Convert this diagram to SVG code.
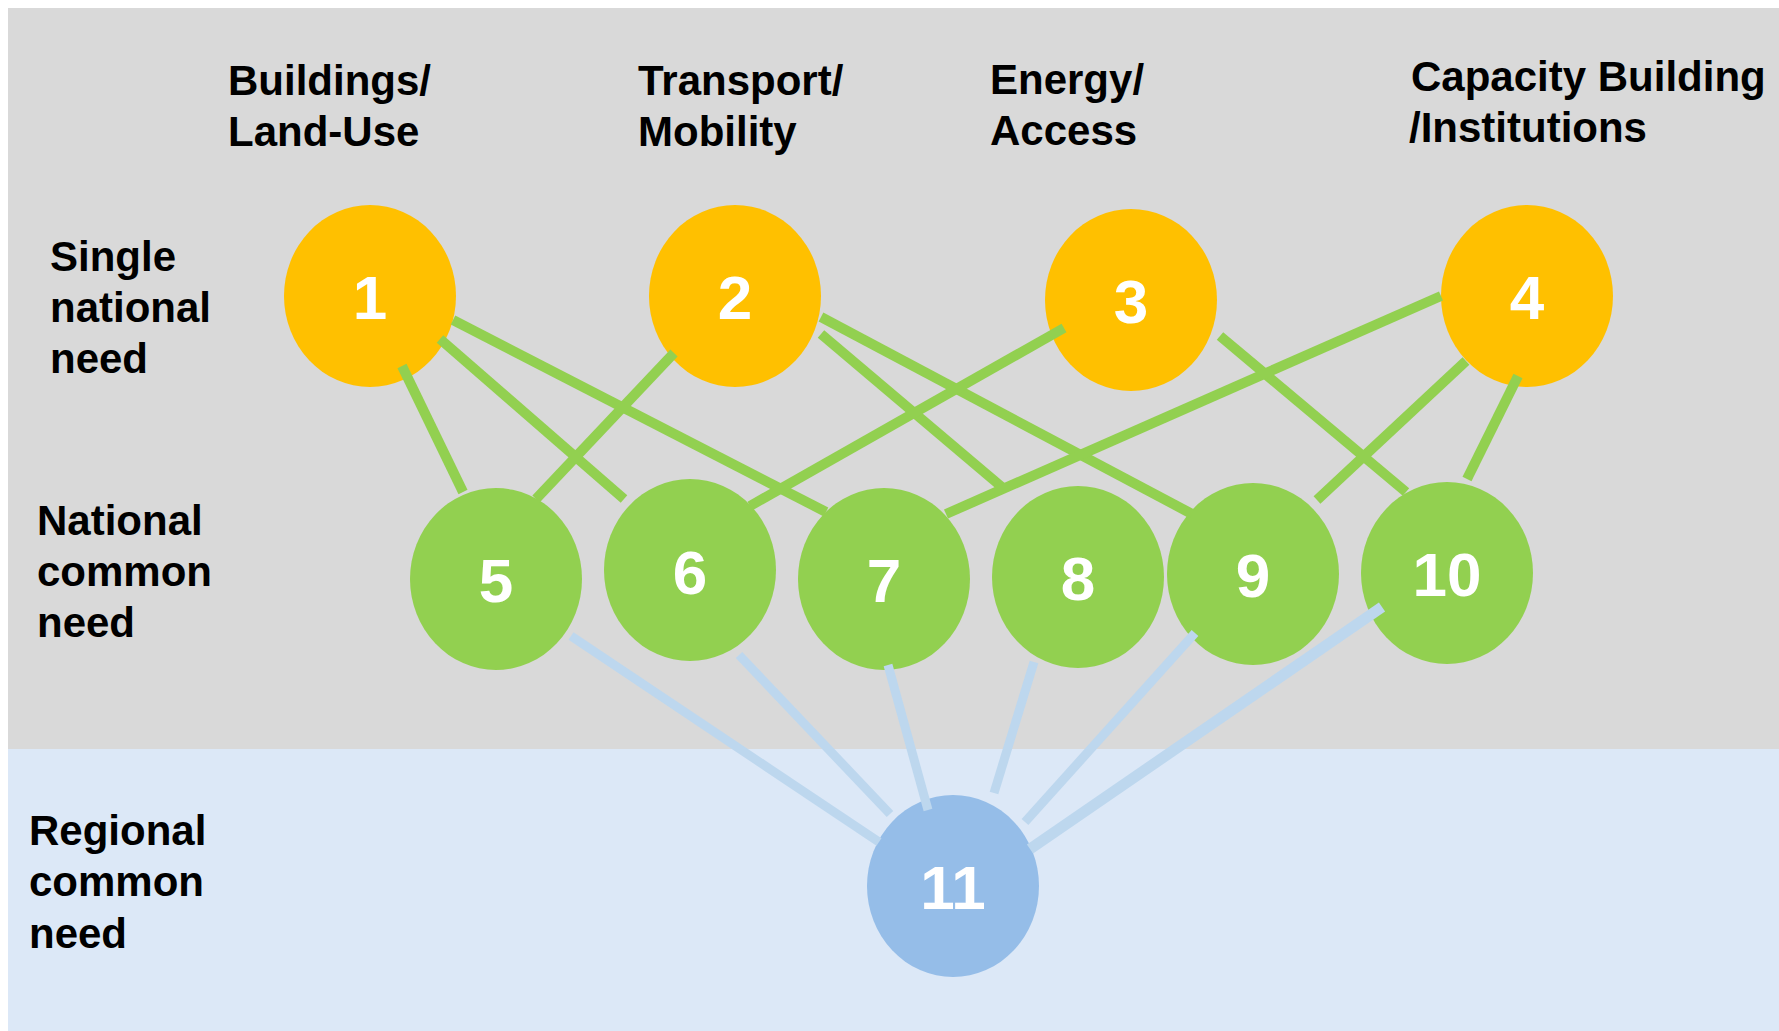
<svg xmlns="http://www.w3.org/2000/svg" width="1779" height="1031" viewBox="0 0 1779 1031">
<style>
.lbl{font-family:"Liberation Sans",Arial,sans-serif;font-weight:bold;font-size:42px;fill:#000}
.num{font-family:"Liberation Sans",Arial,sans-serif;font-weight:bold;font-size:62px;fill:#fff;text-anchor:middle}
.g{stroke:#92D050;stroke-width:10;stroke-linecap:butt;fill:none}
.b{stroke:#BDD7EE;stroke-width:9;stroke-linecap:butt;fill:none}
.y{fill:#FFC000}.gr{fill:#92D050}.bl{fill:#95BDE8}
</style>
<rect x="0" y="0" width="1779" height="1031" fill="#fff"/>
<rect x="8" y="8" width="1771" height="741" fill="#D9D9D9"/>
<rect x="8" y="749" width="1771" height="282" fill="#DCE8F7"/>
<g id="labels">
<text class="lbl" x="228" y="95">Buildings/</text>
<text class="lbl" x="228" y="146">Land-Use</text>
<text class="lbl" x="638" y="95">Transport/</text>
<text class="lbl" x="638" y="146">Mobility</text>
<text class="lbl" x="990" y="94">Energy/</text>
<text class="lbl" x="990" y="145">Access</text>
<text class="lbl" x="1411" y="91">Capacity Building</text>
<text class="lbl" x="1409" y="142">/Institutions</text>
<text class="lbl" x="50" y="271">Single</text>
<text class="lbl" x="50" y="322">national</text>
<text class="lbl" x="50" y="373">need</text>
<text class="lbl" x="37" y="535">National</text>
<text class="lbl" x="37" y="586">common</text>
<text class="lbl" x="37" y="637">need</text>
<text class="lbl" x="29" y="845">Regional</text>
<text class="lbl" x="29" y="896">common</text>
<text class="lbl" x="29" y="948">need</text>
</g>
<g id="n1"><ellipse class="y" cx="370" cy="296" rx="86" ry="91"/><text class="num" x="370" y="319">1</text></g>
<g id="n2"><ellipse class="y" cx="735" cy="296" rx="86" ry="91"/><text class="num" x="735" y="319">2</text></g>
<g id="n3"><ellipse class="y" cx="1131" cy="300" rx="86" ry="91"/><text class="num" x="1131" y="323">3</text></g>
<g id="n4"><ellipse class="y" cx="1527" cy="296" rx="86" ry="91"/><text class="num" x="1527" y="319">4</text></g>
<g id="n5"><ellipse class="gr" cx="496" cy="579" rx="86" ry="91"/><text class="num" x="496" y="602">5</text></g>
<g id="n6"><ellipse class="gr" cx="690" cy="570" rx="86" ry="91"/><text class="num" x="690" y="594">6</text></g>
<g id="n7"><ellipse class="gr" cx="884" cy="579" rx="86" ry="91"/><text class="num" x="884" y="602">7</text></g>
<g id="n8"><ellipse class="gr" cx="1078" cy="577" rx="86" ry="91"/><text class="num" x="1078" y="600">8</text></g>
<g id="n9"><ellipse class="gr" cx="1253" cy="574" rx="86" ry="91"/><text class="num" x="1253" y="597">9</text></g>
<g id="n10"><ellipse class="gr" cx="1447" cy="573" rx="86" ry="91"/><text class="num" x="1447" y="596">10</text></g>
<g id="n11"><ellipse class="bl" cx="953" cy="886" rx="86" ry="91"/><text class="num" x="953" y="909">11</text></g>
<g id="connectors">
<line class="g" x1="402" y1="366" x2="463" y2="492"/>
<line class="g" x1="440" y1="339" x2="624" y2="499"/>
<line class="g" x1="453" y1="320" x2="826" y2="512"/>
<line class="g" x1="674" y1="353" x2="536" y2="499"/>
<line class="g" x1="821" y1="317" x2="1192" y2="514"/>
<line class="g" x1="821" y1="334" x2="1003" y2="488"/>
<line class="g" x1="1064" y1="328" x2="750" y2="506"/>
<line class="g" x1="1220" y1="336" x2="1406" y2="492"/>
<line class="g" x1="1441" y1="296" x2="946" y2="514"/>
<line class="g" x1="1466" y1="361" x2="1317" y2="500"/>
<line class="g" x1="1518" y1="376" x2="1467" y2="479"/>
<line class="b" x1="571" y1="636" x2="879" y2="842"/>
<line class="b" x1="739" y1="655" x2="890" y2="814"/>
<line class="b" x1="888" y1="665" x2="928" y2="810"/>
<line class="b" x1="1034" y1="662" x2="994" y2="793"/>
<line class="b" x1="1195" y1="633" x2="1025" y2="822"/>
<line class="b" style="stroke-width:11" x1="1382" y1="607" x2="1030" y2="849"/>
</g>
</svg>
